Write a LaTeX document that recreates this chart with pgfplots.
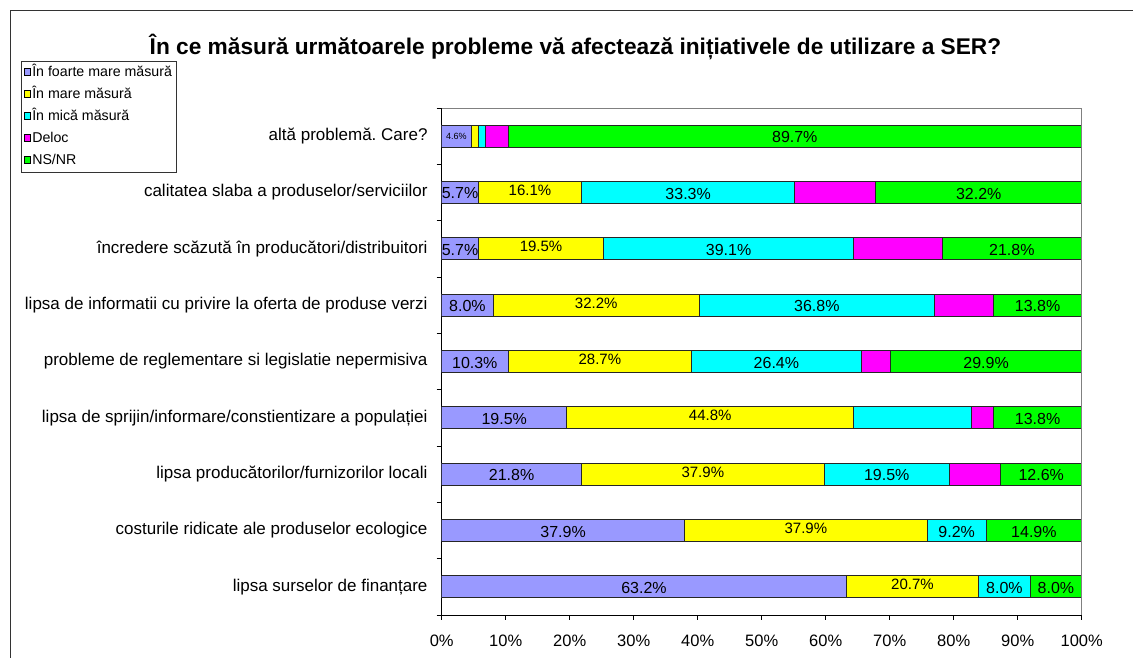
\documentclass[border=0pt]{standalone}
\usepackage{pgfplots}
\pgfplotsset{compat=1.18}
\usepackage{fontspec}
\setmainfont{Liberation Sans}
\frenchspacing
\definecolor{cblue}{HTML}{9999FF}
\definecolor{cyel}{HTML}{FFFF00}
\definecolor{ccyan}{HTML}{00FFFF}
\definecolor{cmag}{HTML}{FF00FF}
\definecolor{cgreen}{HTML}{00FF00}
\begin{document}
\begin{tikzpicture}[x=1pt,y=1pt,
  lab/.style={font=\fontsize{16}{17}\selectfont, inner sep=0pt, text=black, yshift=-1pt},
  laby/.style={font=\fontsize{15}{16}\selectfont, inner sep=0pt, yshift=2pt, text=black}]
\path[use as bounding box] (0,0) rectangle (1133,658);
\draw[black!80, line width=1pt] (10,0) -- (10,647.5) -- (1133,647.5);
\node[font=\bfseries\fontsize{22.7}{24}\selectfont] at (575.5,611) {În ce măsură următoarele probleme vă afectează inițiativele de utilizare a SER?};
\begin{axis}[
  at={(441.7pt,43pt)}, anchor=south west,
  scale only axis, width=640pt, height=507pt,
  xbar stacked, bar width=22pt,
  xmin=0, xmax=100, ymin=0.5, ymax=9.5,
  axis lines*=left,
  axis line style={black, line width=0.8pt},
  xtick={0,10,...,100},
  xticklabels={0\%,10\%,20\%,30\%,40\%,50\%,60\%,70\%,80\%,90\%,100\%},
  ytick={1,...,9},
  yticklabels={lipsa surselor de finanțare, costurile ridicate ale produselor ecologice, lipsa producătorilor/furnizorilor locali, lipsa de sprijin/informare/constientizare a populației, probleme de reglementare si legislatie nepermisiva, lipsa de informatii cu privire la oferta de produse verzi, încredere scăzută în producători/distribuitori, calitatea slaba a produselor/serviciilor, altă problemă. Care?},
  minor ytick={0.5,1.5,...,9.5},
  tick align=outside, major tick length=5pt, minor tick length=5pt,
  major y tick style={draw=none},
  tick style={black, line width=0.8pt},
  xticklabel style={font=\fontsize{16.5}{18}\selectfont, yshift=-11pt},
  yticklabel style={font=\fontsize{17}{19}\selectfont, inner sep=0pt, xshift=-9pt},
  legend cell align=left,
  legend style={at={(axis description cs:-0.658,1.0933)}, anchor=north west,
    draw=black!80, line width=0.8pt, font=\fontsize{14.2}{15}\selectfont,
    nodes={inner sep=1pt, text height=10pt, text depth=3pt},
    row sep=7pt, inner xsep=3pt, inner ysep=4pt},
  sq/.style={legend image code/.code={\draw[##1,draw=black,line width=0.8pt] (0pt,-3pt) rectangle (6.5pt,4pt);}},
  every axis plot/.append style={draw=black!85, line width=0.8pt},
]
\addplot[fill=cblue, sq] coordinates {(63.218,1) (37.931,2) (21.839,3) (19.540,4) (10.345,5) (8.046,6) (5.747,7) (5.747,8) (4.598,9)};
\addplot[fill=cyel, sq] coordinates {(20.690,1) (37.931,2) (37.931,3) (44.828,4) (28.736,5) (32.184,6) (19.540,7) (16.092,8) (1.149,9)};
\addplot[fill=ccyan, sq] coordinates {(8.046,1) (9.195,2) (19.540,3) (18.391,4) (26.437,5) (36.782,6) (39.080,7) (33.333,8) (1.149,9)};
\addplot[fill=cmag, sq] coordinates {(0,1) (0,2) (8.046,3) (3.448,4) (4.598,5) (9.195,6) (13.793,7) (12.644,8) (3.448,9)};
\addplot[fill=cgreen, sq] coordinates {(8.046,1) (14.943,2) (12.644,3) (13.793,4) (29.885,5) (13.793,6) (21.839,7) (32.184,8) (89.655,9)};
\legend{În foarte mare măsură, În mare măsură, În mică măsură, Deloc, NS/NR}
\end{axis}
\begin{axis}[
  at={(441.7pt,43pt)}, anchor=south west,
  scale only axis, width=640pt, height=507pt,
  xmin=0, xmax=100, ymin=0.5, ymax=9.5,
  axis lines=none, clip=false,
]
\draw[gray, line width=0.8pt] (axis cs:0,9.5) -- (axis cs:100,9.5) -- (axis cs:100,0.5);
% row 9: altă problemă
\node[font=\fontsize{9}{10}\selectfont, inner sep=0pt] at (axis cs:2.3,9) {4.6\%};
\node[lab] at (axis cs:55.17,9) {89.7\%};
% row 8
\node[lab] at (axis cs:2.87,8) {5.7\%};
\node[laby] at (axis cs:13.79,8) {16.1\%};
\node[lab] at (axis cs:38.51,8) {33.3\%};
\node[lab] at (axis cs:83.91,8) {32.2\%};
% row 7
\node[lab] at (axis cs:2.87,7) {5.7\%};
\node[laby] at (axis cs:15.52,7) {19.5\%};
\node[lab] at (axis cs:44.83,7) {39.1\%};
\node[lab] at (axis cs:89.08,7) {21.8\%};
% row 6
\node[lab] at (axis cs:4.02,6) {8.0\%};
\node[laby] at (axis cs:24.14,6) {32.2\%};
\node[lab] at (axis cs:58.62,6) {36.8\%};
\node[lab] at (axis cs:93.10,6) {13.8\%};
% row 5
\node[lab] at (axis cs:5.17,5) {10.3\%};
\node[laby] at (axis cs:24.71,5) {28.7\%};
\node[lab] at (axis cs:52.30,5) {26.4\%};
\node[lab] at (axis cs:85.06,5) {29.9\%};
% row 4
\node[lab] at (axis cs:9.77,4) {19.5\%};
\node[laby] at (axis cs:41.95,4) {44.8\%};
\node[lab] at (axis cs:93.10,4) {13.8\%};
% row 3
\node[lab] at (axis cs:10.92,3) {21.8\%};
\node[laby] at (axis cs:40.80,3) {37.9\%};
\node[lab] at (axis cs:69.54,3) {19.5\%};
\node[lab] at (axis cs:93.68,3) {12.6\%};
% row 2
\node[lab] at (axis cs:18.97,2) {37.9\%};
\node[laby] at (axis cs:56.90,2) {37.9\%};
\node[lab] at (axis cs:80.46,2) {9.2\%};
\node[lab] at (axis cs:92.53,2) {14.9\%};
% row 1
\node[lab] at (axis cs:31.61,1) {63.2\%};
\node[laby] at (axis cs:73.56,1) {20.7\%};
\node[lab] at (axis cs:87.93,1) {8.0\%};
\node[lab] at (axis cs:95.98,1) {8.0\%};
\end{axis}
\end{tikzpicture}
\end{document}
